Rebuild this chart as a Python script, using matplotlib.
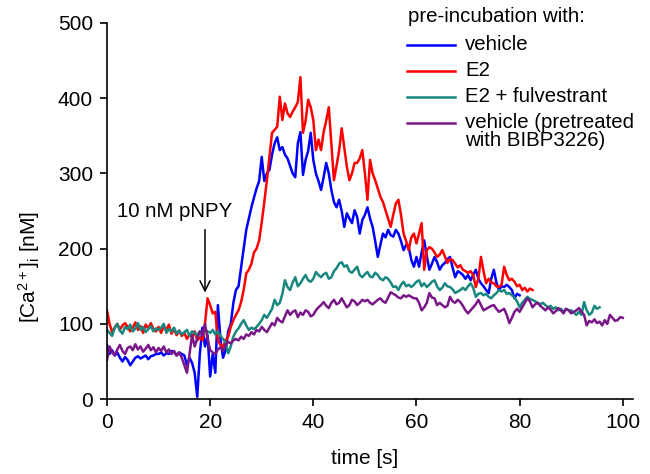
import numpy as np
import matplotlib
matplotlib.use("Agg")
import matplotlib.pyplot as plt

plt.rcParams['font.family'] = ['Liberation Sans', 'DejaVu Sans']
plt.rcParams['mathtext.default'] = 'regular'

# sampling step of the recording [s]
dt = 0.5

# [Ca2+]i traces [nM], one value every 0.5 s starting at t = 0
vehicle = [72, 60, 65, 58, 62, 55, 50, 56, 52, 45, 50, 55, 57, 54, 56, 58, 53, 57, 58, 60,
           60, 62, 58, 61, 60, 64, 63, 58, 62, 60, 58, 45, 55, 48, 35, 3, 60, 95, 70, 85,
           30, 60, 35, 125, 80, 55, 65, 90, 100, 128, 145, 150, 175, 200, 225, 240, 255, 268, 280, 290,
           322, 290, 300, 305, 325, 340, 348, 331, 335, 325, 320, 310, 300, 295, 340, 355, 298, 318, 330, 354,
           318, 300, 290, 278, 295, 314, 300, 278, 262, 255, 265, 250, 229, 247, 240, 234, 251, 242, 220, 238,
           245, 255, 240, 229, 210, 189, 205, 220, 215, 225, 218, 216, 225, 220, 210, 198, 205, 202, 185, 176,
           189, 176, 195, 211, 190, 172, 180, 189, 182, 172, 178, 181, 186, 189, 175, 162, 170, 168, 165, 160,
           165, 158, 165, 172, 160, 154, 150, 145, 141, 160, 172, 155, 145, 150, 149, 152, 149, 145, 134, 140,
           138]

e2 = [118, 100, 89, 95, 100, 92, 98, 101, 96, 90, 95, 102, 92, 97, 88, 99, 94, 101, 93, 90,
      96, 88, 97, 92, 99, 87, 93, 85, 91, 84, 88, 80, 86, 82, 90, 78, 82, 78, 100, 134,
      125, 114, 116, 78, 72, 69, 78, 83, 96, 105, 112, 118, 129, 145, 167, 172, 180, 195, 200, 211,
      235, 262, 291, 322, 354, 358, 362, 402, 371, 393, 380, 375, 382, 388, 395, 428, 354, 370, 398, 388,
      371, 331, 345, 331, 355, 370, 388, 340, 291, 310, 330, 360, 335, 309, 291, 300, 314, 314, 320, 331,
      300, 265, 318, 300, 291, 280, 269, 262, 251, 240, 229, 245, 260, 265, 245, 220, 210, 198, 215, 220,
      207, 220, 234, 172, 198, 202, 200, 195, 189, 192, 198, 190, 181, 186, 185, 180, 175, 178, 172, 170,
      168, 170, 165, 149, 160, 189, 170, 154, 160, 155, 154, 150, 149, 152, 176, 165, 158, 160, 156, 150,
      152, 145, 148, 143, 147, 145]

e2_fulv = [92, 88, 84, 95, 100, 91, 87, 96, 93, 99, 90, 94, 101, 92, 96, 89, 93, 97, 90, 94,
           92, 95, 100, 88, 93, 90, 95, 87, 91, 86, 89, 92, 84, 90, 88, 85, 90, 87, 92, 90,
           88, 92, 86, 90, 84, 80, 75, 61, 70, 83, 90, 94, 100, 105, 98, 92, 95, 93, 96, 100,
           105, 112, 108, 114, 120, 132, 125, 128, 140, 158, 149, 145, 155, 162, 150, 154, 160, 165, 158, 156,
           160, 169, 165, 162, 166, 168, 160, 162, 170, 174, 180, 182, 176, 178, 170, 168, 172, 176, 165, 162,
           166, 169, 163, 162, 168, 165, 160, 158, 162, 160, 155, 149, 150, 145, 152, 156, 150, 152, 149, 152,
           156, 158, 150, 154, 149, 152, 156, 158, 150, 145, 148, 154, 150, 149, 146, 141, 143, 145, 148, 145,
           150, 154, 148, 136, 140, 141, 138, 140, 136, 134, 138, 141, 145, 143, 145, 140, 141, 138, 135, 130,
           122, 128, 132, 136, 133, 132, 130, 128, 126, 128, 125, 122, 124, 120, 122, 118, 120, 116, 120, 118,
           118, 115, 112, 116, 112, 129, 118, 112, 115, 124, 120, 122]

vehicle_bibp = [52, 70, 62, 58, 66, 72, 64, 60, 68, 70, 65, 73, 66, 70, 63, 67, 72, 65, 69, 62,
                68, 64, 70, 62, 66, 60, 64, 58, 62, 55, 45, 35, 60, 85, 70, 80, 90, 85, 100, 80,
                65, 62, 60, 66, 69, 64, 72, 76, 74, 78, 80, 78, 83, 80, 86, 84, 89, 86, 92, 90,
                96, 92, 89, 95, 101, 98, 108, 104, 102, 110, 118, 112, 116, 118, 109, 115, 112, 118, 116, 110,
                112, 118, 122, 125, 129, 124, 121, 128, 132, 126, 128, 134, 128, 122, 125, 132, 130, 125, 128, 132,
                130, 132, 128, 126, 129, 132, 134, 130, 128, 135, 142, 140, 138, 135, 134, 138, 136, 138, 136, 134,
                134, 128, 118, 122, 128, 141, 135, 134, 125, 128, 125, 122, 124, 136, 130, 128, 132, 129, 124, 118,
                114, 118, 122, 126, 132, 125, 118, 120, 122, 124, 125, 120, 116, 118, 120, 112, 101, 108, 116, 120,
                116, 122, 128, 134, 130, 122, 126, 128, 124, 121, 118, 122, 119, 114, 117, 121, 118, 114, 120, 118,
                114, 116, 118, 121, 116, 112, 98, 104, 102, 106, 101, 103, 98, 105, 100, 112, 108, 104, 105, 109,
                108]

labels = ['vehicle', 'E2', 'E2 + fulvestrant', 'vehicle (pretreated\nwith BIBP3226)']
colors = ['#0000ff', '#ff0000', '#18877f', '#7a1788']
series = [vehicle, e2, e2_fulv, vehicle_bibp]

fig = plt.figure(figsize=(6.5, 4.74), dpi=100)
ax = fig.add_axes([0.1646, 0.158, 0.8094, 0.7935])

for vals, c in zip(series, colors):
    t = np.arange(len(vals)) * dt
    ax.plot(t, vals, color=c, lw=1.8)

ax.set_xlim(0, 102)
ax.set_ylim(0, 500)
ax.set_xticks([0, 20, 40, 60, 80, 100])
ax.set_yticks([0, 100, 200, 300, 400, 500])
for s in ['top', 'right']:
    ax.spines[s].set_visible(False)
for s in ['left', 'bottom']:
    ax.spines[s].set_linewidth(1.2)
ax.tick_params(direction='out', length=5, width=1.2, labelsize=15, pad=5)
ax.set_xlabel('time [s]', fontsize=15)
ax.set_ylabel('[Ca$^{2+}$]$_{i}$ [nM]', fontsize=15)
ax.xaxis.set_label_coords(0.49, -0.133)
ax.yaxis.set_label_coords(-0.123, 0.351)

# stimulus marker
ax.text(13.2, 250, '10 nM pNPY', fontsize=14.7, ha='center', va='center')
ax.annotate('', xy=(19, 138), xytext=(19, 229),
            arrowprops=dict(arrowstyle='->', color='black', lw=1.1, mutation_scale=18))

# legend, drawn by hand so the wrapped label lines up like the original
ax.text(0.572, 1.016, 'pre-incubation with:', transform=ax.transAxes,
        fontsize=14.7, ha='left', va='center')
ly = [0.941, 0.872, 0.803, 0.734]
for lab, c, y in zip(labels, colors, ly):
    ax.plot([0.570, 0.662], [y, y], transform=ax.transAxes, color=c, lw=1.8, clip_on=False)
    ax.text(0.681, y + 0.027, lab, transform=ax.transAxes, fontsize=14.7,
            ha='left', va='top', linespacing=0.95)

fig.savefig('out.png', dpi=100)
